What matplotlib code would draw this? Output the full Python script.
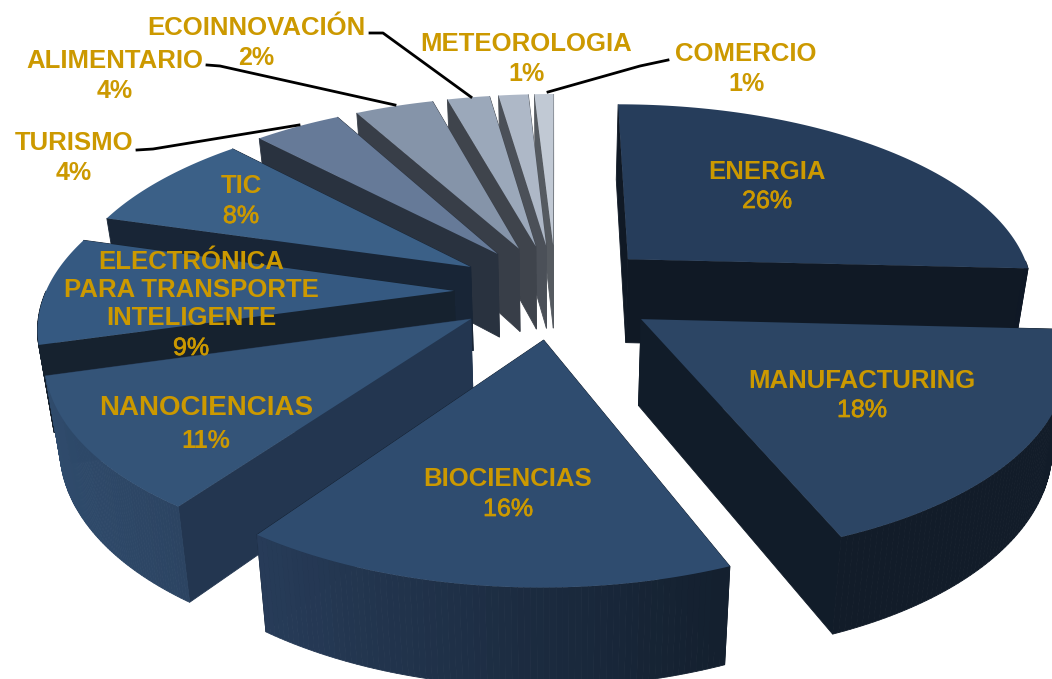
import numpy as np
import matplotlib
matplotlib.use("Agg")
import matplotlib.pyplot as plt
import matplotlib.patheffects as pe
from matplotlib.patches import Polygon

categories = ["ENERGIA", "MANUFACTURING", "BIOCIENCIAS", "NANOCIENCIAS",
              "ELECTRÓNICA\nPARA TRANSPORTE\nINTELIGENTE", "TIC", "TURISMO",
              "ALIMENTARIO", "ECOINNOVACIÓN", "METEOROLOGIA", "COMERCIO"]
# labels in the chart are rounded, slice sizes are estimated from the picture
pct_labels = ["26%", "18%", "16%", "11%", "9%", "8%", "4%", "4%", "2%", "1%", "1%"]
values = [25.8, 18.1, 15.9, 10.8, 8.9, 8.4, 4.1, 3.7, 2.0, 1.4, 0.9]

top_colors = ["#263D5B", "#2C4564", "#2F4C6F", "#345478", "#355981", "#3B6087",
              "#667A98", "#8594A9", "#9BA8BA", "#AEB8C7", "#C1C9D4"]
wall_front = ["#101925", "#111C29", "#14202F", "#233650", "#16222F", "#182536",
              "#29323F", "#383E48", "#3F444C", "#4B5058", "#555A60"]
rim_left = ["#1A2A40", "#121C29", "#273C59", "#2F4B6C", "#16222F", "#27384F",
            "#3A4656", "#4A5563", "#5A6472", "#6A7380", "#7A838F"]
rim_right = ["#0F1826", "#121C29", "#14202F", "#2C4462", "#16222F", "#1A2635",
             "#2A333F", "#333C48", "#3C4550", "#474F5A", "#525A64"]
text_color = "#CC9900"

# pie geometry in pixels
CX, CY = 556, 291
RX, RY = 408, 189.5
PERSP = 0.162
EXPLODE = 0.25
DEPTH = 85
TAPER = 0.03

name_pos = [(767, 172), (862, 381), (508, 479), (206, 408), (191, 290), (241, 186),
            (74, 143), (115, 61), (256, 28), (526, 44), (746, 54)]
name_size = [18.5, 18.5, 18.5, 20, 18.5, 18.5, 18.5, 18.5, 18.5, 18.5, 18.5]
pct_pos = [(767, 201), (862, 410), (508, 509), (206, 441), (191, 348), (241, 216),
           (74, 173), (115, 91), (256, 58), (526, 74), (746, 84)]
pct_bold = [False, False, False, True, False, False, True, True, True, True, True]
leaders = [[(137, 150), (153, 149), (299, 125)], [(207, 65), (220, 66), (395, 105)],
           [(370, 33), (383, 33), (471, 97)], [(548, 92), (640, 66), (668, 60)]]


def project(X, Y):
    s = 1 / (1 + PERSP * Y)
    return CX + RX * X * s, CY - RY * Y * s, s


def shades(c1, c2, n):
    a = np.array(matplotlib.colors.to_rgb(c1))
    b = np.array(matplotlib.colors.to_rgb(c2))
    return [tuple(a + (b - a) * i / max(n - 1, 1)) for i in range(n)]


def lower(p, s):
    # point under p on the bottom face, pulled slightly towards the middle
    return (p[0] + (CX - p[0]) * TAPER, p[1] + DEPTH * s ** 0.7)


def wall(ax, p, q, sp, sq, color):
    pts = [p, q, lower(q, sq), lower(p, sp)]
    ax.add_patch(Polygon(pts, closed=True, fc=color, ec=color, lw=0.6))


def draw_slice(ax, a0, a1, i):
    mid = (a0 + a1) / 2
    ox, oy = EXPLODE * np.sin(mid), EXPLODE * np.cos(mid)
    t = np.linspace(a0, a1, 80)
    X = ox + np.sin(t)
    Y = oy + np.cos(t)
    sx, sy, s = project(X, Y)
    ax0, ay0, as0 = project(ox, oy)

    # the radial wall that ends lower on the screen is the one facing us
    ends = [0, -1]
    if sy[0] > sy[-1]:
        ends = [-1, 0]
    for e in ends:
        wall(ax, (ax0, ay0), (sx[e], sy[e]), as0, s[e], wall_front[i])

    # rim, coloured from the right side of the chart to the left
    cols = shades(rim_right[i], rim_left[i], 40)
    for k in range(len(t) - 1):
        if np.cos((t[k] + t[k + 1]) / 2) < 0:
            frac = (sx[k] - sx.min()) / (sx.max() - sx.min() + 1e-6)
            c = cols[int((1 - frac) * 39)]
            wall(ax, (sx[k], sy[k]), (sx[k + 1], sy[k + 1]), s[k], s[k + 1], c)

    pts = [(ax0, ay0)] + list(zip(sx, sy))
    ax.add_patch(Polygon(pts, closed=True, fc=top_colors[i], ec="none"))


fig = plt.figure(figsize=(10.52, 6.79), dpi=100)
ax = fig.add_axes([0, 0, 1, 1])
ax.set_xlim(0, 1052)
ax.set_ylim(679, 0)
ax.axis("off")

edges = np.cumsum([0] + values) / sum(values) * 2 * np.pi
mids = (edges[:-1] + edges[1:]) / 2
for i in np.argsort(-np.cos(mids)):
    draw_slice(ax, edges[i], edges[i + 1], i)

# labels
for name, pct, np_, fs, pp, b in zip(categories, pct_labels, name_pos, name_size, pct_pos, pct_bold):
    ax.text(np_[0], np_[1], name, color=text_color, fontsize=fs, fontweight="bold",
            family="Liberation Sans", ha="center", va="center", linespacing=1.2)
    t = ax.text(pp[0], pp[1], pct, color=text_color, fontsize=18,
                fontweight="bold" if b else "normal",
                family="Liberation Sans", ha="center", va="center")
    if not b:
        t.set_path_effects([pe.withStroke(linewidth=0.5, foreground=text_color)])

# leader lines
for pts in leaders:
    xs, ys = zip(*pts)
    ax.plot(xs, ys, color="black", lw=2)

fig.savefig("out.png", dpi=100)
